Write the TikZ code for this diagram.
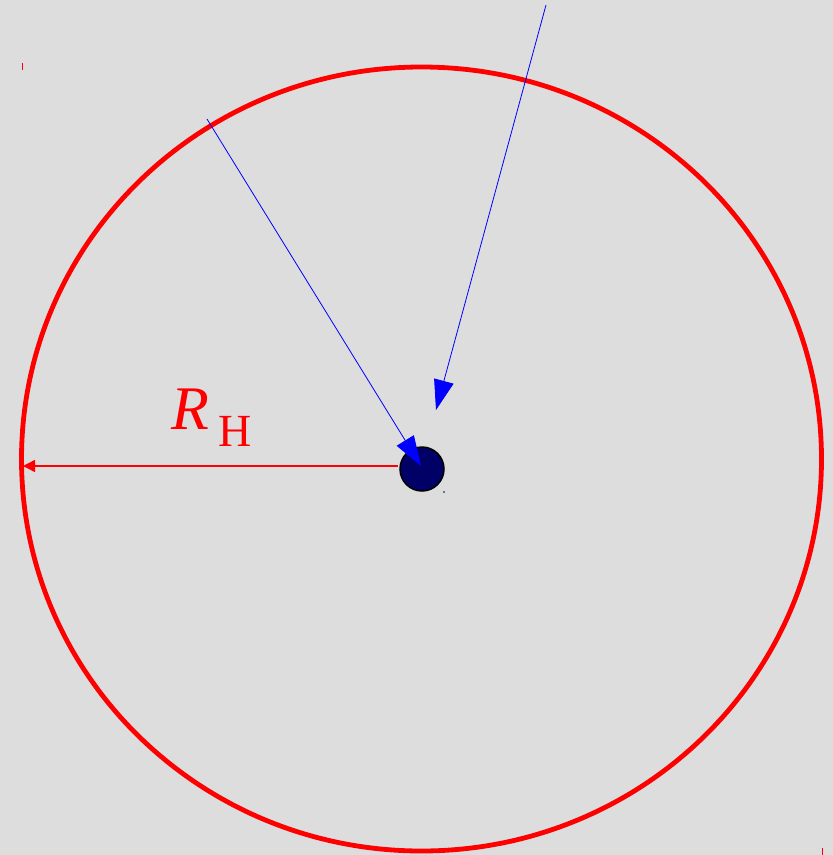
\documentclass[tikz,border=0pt]{standalone}
\usepackage{fontspec}
\setmainfont{Liberation Serif}
\usetikzlibrary{arrows.meta}
\definecolor{bg}{HTML}{DDDDDD}
\definecolor{navy}{HTML}{000066}
\begin{document}
\begin{tikzpicture}[x=1pt,y=-1pt,
  bluearrow/.style={draw=blue,line width=0.8pt,-{Triangle[length=30pt,width=20pt]}},
  redarrow/.style={draw=red,line width=1.5pt,-{Triangle[length=12pt,width=12pt]}},
  horizon/.style={draw=red,line width=4.8pt},
  hole/.style={circle,draw=black,line width=1.5pt,fill=navy,minimum size=44pt,inner sep=0pt},
  lbl/.style={text=red,inner sep=0pt}]
\fill[bg] (0,0) rectangle (833,855);
\useasboundingbox (0,0) rectangle (833,855);
\draw[horizon] (421.5,459) ellipse [x radius=400,y radius=392];
\coordinate (west) at (23,466);
\node[hole] (bh) at (422,469) {};
\draw[redarrow] (398,466) -- (west);
\node[lbl,anchor=base west] (lab) at (171,429) {\fontsize{62}{62}\selectfont\itshape R\fontsize{46}{46}\selectfont\upshape\hspace{9pt}\raisebox{-17pt}{H}};
\coordinate (s1) at (207,119);
\coordinate (t1) at (421,466);
\draw[bluearrow] (s1) -- (t1);
\coordinate (s2) at (546,5);
\coordinate (t2) at (436,410);
\draw[bluearrow] (s2) -- (t2);
\coordinate (m1) at (22,63);
\draw[red,line width=1pt] (m1) -- ++(0,7);
\coordinate (m2) at (822,848);
\draw[red,line width=1pt] (m2) -- ++(0,7);
\fill[navy] (444,492) circle (0.8);
\end{tikzpicture}
\end{document}
